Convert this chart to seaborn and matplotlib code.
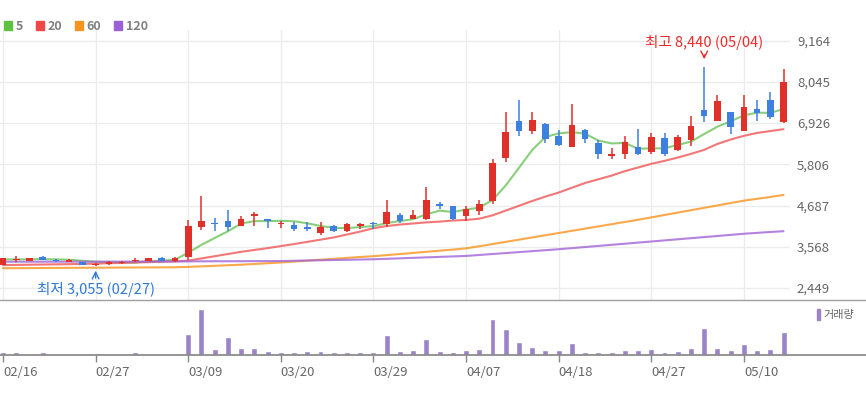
import matplotlib
matplotlib.use("Agg")
import matplotlib.pyplot as plt
from matplotlib.lines import Line2D
from matplotlib.patches import Patch
import seaborn as sns
import numpy as np
import pandas as pd

# DATA ===========================================================================================================

dates = ["02/16", "02/17", "02/20", "02/21", "02/22", "02/23", "02/24", "02/27", "02/28", "03/02",
         "03/03", "03/06", "03/07", "03/08", "03/09", "03/10", "03/13", "03/14", "03/15", "03/16",
         "03/17", "03/20", "03/21", "03/22", "03/23", "03/24", "03/27", "03/28", "03/29", "03/30",
         "03/31", "04/03", "04/04", "04/05", "04/06", "04/07", "04/10", "04/11", "04/12", "04/13",
         "04/14", "04/17", "04/18", "04/19", "04/20", "04/21", "04/24", "04/25", "04/26", "04/27",
         "04/28", "05/02", "05/03", "05/04", "05/08", "05/09", "05/10", "05/11", "05/12", "05/15"]

open_px = [3070, 3200, 3185, 3290, 3200, 3160, 3150, 3080, 3090, 3120,
           3170, 3180, 3250, 3170, 3300, 4100, 4200, 4260, 4140, 4390,
           4310, 4190, 4170, 4100, 3950, 4120, 4000, 4140, 4220, 4180,
           4440, 4330, 4320, 4730, 4670, 4390, 4540, 4820, 5970, 6980,
           6720, 6890, 6580, 6280, 6740, 6380, 6020, 6090, 6290, 6130,
           6530, 6200, 6470, 7280, 6990, 7220, 6720, 7310, 7550, 6950]
high_px = [3260, 3320, 3260, 3320, 3230, 3235, 3155, 3120, 3170, 3170,
           3260, 3260, 3300, 3290, 4290, 4950, 4340, 4570, 4400, 4510,
           4330, 4275, 4250, 4250, 4250, 4150, 4220, 4220, 4230, 4840,
           4490, 4570, 5180, 4770, 4680, 4680, 4840, 5950, 7220, 7550,
           7220, 6920, 6740, 7450, 6760, 6470, 6240, 6580, 6760, 6670,
           6650, 6600, 7120, 8440, 7690, 7240, 7690, 7550, 7760, 8390]
low_px = [3060, 3150, 3175, 3200, 3140, 3140, 3070, 3055, 3075, 3110,
          3140, 3170, 3180, 3160, 3210, 4020, 4000, 4000, 4120, 4140,
          4070, 4070, 4000, 4000, 3900, 3970, 3970, 4040, 4040, 4110,
          4220, 4310, 4290, 4590, 4290, 4270, 4420, 4720, 5880, 6580,
          6620, 6380, 6300, 6270, 6380, 5940, 5940, 5940, 6060, 6100,
          6030, 6170, 6300, 6960, 6990, 6620, 6720, 6990, 7050, 6920]
close_px = [3250, 3220, 3250, 3220, 3185, 3200, 3080, 3110, 3140, 3160,
            3200, 3250, 3190, 3270, 4130, 4260, 4180, 4100, 4320, 4460,
            4260, 4220, 4040, 4040, 4100, 4000, 4190, 4180, 4180, 4500,
            4280, 4440, 4840, 4680, 4320, 4590, 4730, 5850, 6680, 6710,
            7010, 6490, 6330, 6870, 6490, 6080, 6100, 6400, 6080, 6540,
            6090, 6560, 6840, 7120, 7530, 6830, 7360, 7210, 7090, 8050]

ma5 = [3225, 3222, 3228, 3230, 3225, 3215, 3187, 3159, 3143, 3138,
       3138, 3172, 3188, 3214, 3408, 3620, 3806, 3988, 4198, 4264,
       4264, 4272, 4260, 4204, 4132, 4080, 4074, 4102, 4130, 4210,
       4266, 4316, 4448, 4548, 4512, 4574, 4632, 4834, 5234, 5712,
       6196, 6548, 6646, 6682, 6638, 6452, 6374, 6388, 6230, 6240,
       6242, 6334, 6422, 6630, 6828, 6976, 7136, 7210, 7204, 7308]
ma20 = [3070, 3075, 3080, 3085, 3090, 3095, 3100, 3110, 3120, 3130,
        3140, 3150, 3160, 3170, 3190, 3250, 3310, 3370, 3430, 3480,
        3530, 3585, 3640, 3700, 3760, 3820, 3900, 3980, 4070, 4130,
        4170, 4200, 4230, 4250, 4280, 4295, 4330, 4420, 4550, 4680,
        4810, 4930, 5040, 5170, 5300, 5400, 5500, 5620, 5720, 5820,
        5900, 5990, 6090, 6200, 6360, 6480, 6580, 6660, 6710, 6760]
ma60 = [2985, 2985, 2988, 2990, 2992, 2994, 2996, 2998, 3000, 3002,
        3004, 3006, 3008, 3010, 3020, 3035, 3050, 3065, 3080, 3100,
        3120, 3140, 3165, 3190, 3215, 3240, 3265, 3290, 3310, 3340,
        3370, 3400, 3430, 3460, 3490, 3525, 3580, 3640, 3700, 3760,
        3820, 3880, 3940, 4000, 4060, 4120, 4180, 4240, 4300, 4365,
        4430, 4495, 4560, 4625, 4690, 4755, 4820, 4870, 4920, 4975]
ma120 = [3160, 3160, 3161, 3161, 3162, 3162, 3163, 3163, 3164, 3164,
         3165, 3166, 3167, 3168, 3170, 3172, 3173, 3174, 3175, 3177,
         3178, 3180, 3187, 3194, 3200, 3207, 3213, 3220, 3227, 3240,
         3253, 3266, 3279, 3292, 3305, 3318, 3344, 3370, 3396, 3422,
         3448, 3474, 3500, 3530, 3560, 3590, 3620, 3650, 3680, 3710,
         3740, 3770, 3800, 3830, 3860, 3890, 3920, 3945, 3968, 3990]

volume = [140, 140, 15, 140, 15, 15, 15, 15, 15, 15,
          140, 15, 15, 15, 1060, 2280, 280, 910, 365, 365,
          190, 140, 140, 190, 190, 140, 140, 140, 140, 980,
          190, 240, 800, 190, 140, 240, 300, 1800, 1300, 670,
          420, 240, 240, 620, 140, 140, 140, 240, 240, 300,
          140, 190, 365, 1350, 365, 240, 550, 240, 300, 1170]

price_ticks = [2449, 3568, 4687, 5806, 6926, 8045, 9164]
tick_labels = ["02/16", "02/27", "03/09", "03/20", "03/29", "04/07", "04/18", "04/27", "05/10"]
ma_names = ["5", "20", "60", "120"]

# STYLE ==========================================================================================================

W, H = 866, 397
UP = "#e0302a"
DOWN = "#3d80e0"
MA_COLORS = ["#6cc35a", "#f05555", "#f7941d", "#a064d8"]
LEG_COLORS = ["#5fc341", "#ef4747", "#f89420", "#9b5fd6"]
VOL_COLOR = "#9a83c6"
GRID = "#ececec"
TXT = "#666666"

sns.set_theme(style="white")
plt.rcParams["font.family"] = ["Noto Sans CJK KR", "DejaVu Sans"]

idx = np.arange(len(dates))
o = np.array(open_px); c = np.array(close_px)
hi = np.array(high_px); lo = np.array(low_px)
cols = [UP if cc >= oo else DOWN for oo, cc in zip(o, c)]

# pixel layout -> data: candle i sits at x = 3 + 13.23 * i
step, x0 = 13.23, 3.0
fig = plt.figure(figsize=(W / 100, H / 100), dpi=100)
ax = fig.add_axes([0, 1 - 300 / H, 790 / W, 270 / H])
axv = fig.add_axes([0, 1 - 355 / H, 1, 53 / H])

# PRICE PANEL ====================================================================================================

ma_df = pd.DataFrame({"idx": np.tile(idx, 4),
                      "value": ma5 + ma20 + ma60 + ma120,
                      "ma": np.repeat(ma_names, len(idx))})
sns.lineplot(data=ma_df, x="idx", y="value", hue="ma", palette=dict(zip(ma_names, MA_COLORS)),
             linewidth=1.5, alpha=0.8, legend=False, ax=ax, zorder=2)

ax.vlines(idx, lo, hi, colors=cols, linewidth=1.1, zorder=3)
body = np.maximum(np.abs(c - o), 30)
ax.bar(idx, body, bottom=np.minimum(o, c), width=0.5, color=cols, linewidth=0, zorder=4)

ax.set_xlim(-x0 / step, (790 - x0) / step)
ax.set_ylim(2121, 9455)
tick_pos = [dates.index(t) for t in tick_labels]
ax.set_xticks(tick_pos)
ax.set_xticklabels([])
ax.set_yticks(price_ticks)
ax.set_yticklabels([f"{v:,}" for v in price_ticks])
ax.yaxis.tick_right()
ax.tick_params(axis="y", length=0, pad=5, labelsize=9.5, labelcolor=TXT)
ax.tick_params(axis="x", length=0)
ax.grid(True, color=GRID, linewidth=1)
ax.set_axisbelow(True)
for s in ax.spines.values():
    s.set_visible(False)
ax.set_xlabel("")
ax.set_ylabel("")

hi_i = int(np.argmax(hi))
lo_i = int(np.argmin(lo))
ax.text(hi_i, 9102, f"최고 {hi[hi_i]:,} ({dates[hi_i]})", color="#ee2a2a", fontsize=10.5,
        ha="center", va="center")
ax.annotate("", xy=(hi_i, 8586), xytext=(hi_i, 8857),
            arrowprops=dict(arrowstyle="->", color="#ee2a2a", lw=1))
ax.text(lo_i, 2395, f"최저 {lo[lo_i]:,} ({dates[lo_i]})", color="#2f7ad6", fontsize=10.5,
        ha="center", va="center")
ax.annotate("", xy=(lo_i, 2993), xytext=(lo_i, 2640),
            arrowprops=dict(arrowstyle="->", color="#2f7ad6", lw=1))

handles = [Patch(facecolor=col, edgecolor=col) for col in LEG_COLORS]
leg = fig.legend(handles, ma_names, loc="upper left", bbox_to_anchor=(4 / W, 1 - 20 / H), ncol=4,
                 frameon=False, handlelength=0.65, handleheight=0.65, handletextpad=0.3,
                 columnspacing=1.0, borderaxespad=0, borderpad=0,
                 prop={"size": 9, "weight": "bold"})
for t in leg.get_texts():
    t.set_color("#808080")

fig.add_artist(Line2D([0, 1], [1 - 300 / H] * 2, color="#a0a0a0", lw=1, transform=fig.transFigure))

# VOLUME PANEL ===================================================================================================

sns.barplot(x=idx, y=volume, native_scale=True, width=0.45, color=VOL_COLOR, saturation=1,
            errorbar=None, ax=axv)
axv.set_xlim(-x0 / step, (W - x0) / step)
axv.set_ylim(0, 2650)
axv.set_xticks(tick_pos)
axv.set_xticklabels(tick_labels, ha="left")
axv.set_yticks([])
axv.tick_params(axis="x", direction="out", length=5, width=1, color="#888888", pad=3,
                labelsize=9.5, labelcolor=TXT, bottom=True)
for name, s in axv.spines.items():
    s.set_visible(name == "bottom")
axv.spines["bottom"].set_color("#888888")
axv.set_xlabel("")
axv.set_ylabel("")
vleg = axv.legend([Patch(facecolor=VOL_COLOR, edgecolor=VOL_COLOR)], ["거래량"], loc="upper right",
                  bbox_to_anchor=(1 - 12 / W, 1 - 7 / 53), frameon=False, handlelength=0.3,
                  handleheight=1.1, handletextpad=0.3, borderaxespad=0, borderpad=0, prop={"size": 8})
for t in vleg.get_texts():
    t.set_color(TXT)

fig.savefig("out.png", dpi=100)
